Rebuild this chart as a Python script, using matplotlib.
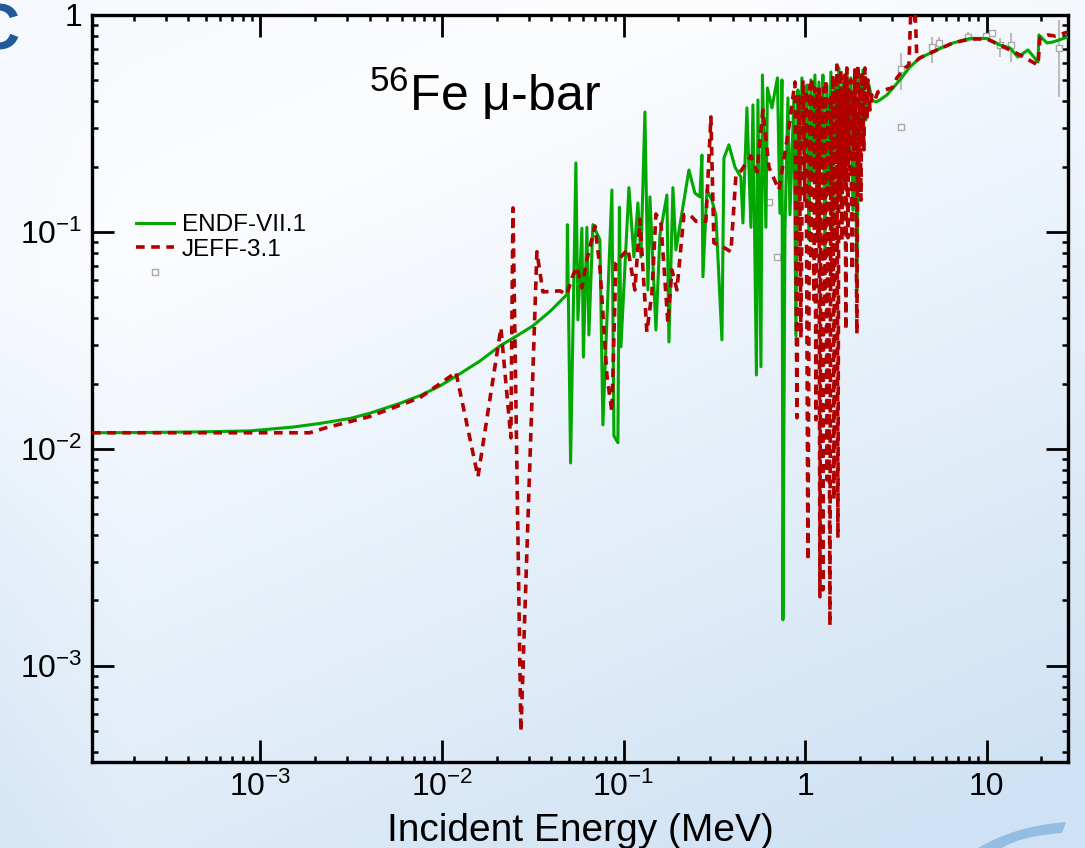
import numpy as np
import matplotlib
matplotlib.use("Agg")
import matplotlib.pyplot as plt
from matplotlib.lines import Line2D
from matplotlib.ticker import LogLocator, NullFormatter
from matplotlib.path import Path
from matplotlib.patches import PathPatch

plt.rcParams['font.family'] = ['Liberation Sans', 'DejaVu Sans']
plt.rcParams['mathtext.fontset'] = 'custom'
plt.rcParams['mathtext.rm'] = 'Liberation Sans'
plt.rcParams['mathtext.it'] = 'Liberation Sans:italic'
plt.rcParams['mathtext.bf'] = 'Liberation Sans:bold'
plt.rcParams['mathtext.default'] = 'regular'

# ---------------- data (E in MeV, mu-bar) ----------------
endf_E_low = [1.18e-4, 2.46e-4, 4.63e-4, 8.77e-4, 1.508e-3, 2.13e-3, 3.11e-3, 4.01e-3, 5.86e-3, 7.57e-3,
              9.75e-3, 1.256e-2, 1.618e-2, 2.084e-2, 2.588e-2, 3.168e-2, 3.936e-2, 4.877e-2]
endf_mu_low = [0.01186, 0.0119, 0.01197, 0.0121, 0.0126, 0.0131, 0.0138, 0.0146, 0.0162, 0.0176,
               0.0195, 0.0222, 0.0254, 0.0298, 0.0332, 0.0369, 0.0430, 0.0514]

endf_E_res = [0.04908, 0.05111, 0.05466, 0.05607, 0.05898, 0.06012, 0.06284, 0.06446, 0.06782, 0.0741,
              0.07698, 0.0863, 0.08853, 0.09313, 0.09493, 0.09676, 0.1071, 0.1141, 0.12, 0.1247,
              0.1312, 0.1363, 0.1398, 0.1509, 0.1587, 0.1734, 0.1779, 0.1871, 0.1944, 0.2292,
              0.2473, 0.2635, 0.2703, 0.2738, 0.2881, 0.3069, 0.3229, 0.3485, 0.3574, 0.3808,
              0.411, 0.4434, 0.4548, 0.4785, 0.5034, 0.5164, 0.5398, 0.5502, 0.5715, 0.5825,
              0.6088, 0.6205, 0.657, 0.7046, 0.7273, 0.746, 0.7555, 0.775, 0.8051, 0.8257, 0.8687]
endf_mu_res = [0.108, 0.00861, 0.208, 0.0393, 0.104, 0.0265, 0.105, 0.0335, 0.108, 0.092,
               0.0129, 0.156, 0.01148, 0.01067, 0.130, 0.0295, 0.160, 0.0767, 0.136, 0.0767,
               0.357, 0.054, 0.145, 0.0353, 0.0969, 0.148, 0.0311, 0.160, 0.0826, 0.193,
               0.151, 0.145, 0.226, 0.0621, 0.156, 0.140, 0.119, 0.0318, 0.219, 0.252,
               0.199, 0.179, 0.110, 0.373, 0.105, 0.385, 0.0219, 0.406, 0.0239, 0.529,
               0.105, 0.461, 0.373, 0.513, 0.122, 0.502, 0.00163, 0.102, 0.415, 0.120, 0.419]

endf_E_dense = [0.891, 0.914, 0.9374, 0.9614, 0.9987, 1.0244, 1.0507, 1.0777, 1.1053, 1.1337,
                1.1628, 1.1926, 1.2232, 1.2546, 1.2868, 1.3198, 1.3537, 1.3885, 1.4241, 1.4607,
                1.4982, 1.5366, 1.5761, 1.6165, 1.658, 1.7006, 1.7442, 1.789, 1.8349, 1.882,
                1.9311, 1.9815, 2.0324, 2.0845, 2.1652, 2.2491, 2.3362, 2.4578, 2.5862]
endf_mu_dense = [0.0332, 0.451, 0.140, 0.513, 0.239, 0.476, 0.092, 0.502, 0.174, 0.529,
                 0.114, 0.491, 0.215, 0.529, 0.0826, 0.476, 0.156, 0.546, 0.102, 0.502,
                 0.239, 0.570, 0.140, 0.476, 0.193, 0.558, 0.215, 0.513, 0.126, 0.558,
                 0.054, 0.529, 0.265, 0.558, 0.328, 0.476, 0.406, 0.397, 0.406]

endf_E_high = [2.8271, 3.3328, 3.7831, 4.2955, 5.331, 6.528, 8.1, 10.05, 11.86, 13.46,
               14.89, 16.91, 19.2, 19.44, 21.52, 23.22, 28.09]
endf_mu_high = [0.428, 0.502, 0.576, 0.634, 0.690, 0.743, 0.78, 0.78, 0.727, 0.705,
                0.640, 0.690, 0.607, 0.809, 0.743, 0.751, 0.792]

jeff_E_low = [1.18e-4, 1.87e-3, 2.29e-3, 4.01e-3, 7.55e-3, 0.01105, 0.01193, 0.01578, 0.02111, 0.02396,
              0.0246, 0.02721, 0.03333, 0.03596, 0.04463, 0.04877]
jeff_mu_low = [0.01186, 0.01186, 0.0125, 0.0141, 0.0172, 0.0215, 0.0226, 0.00743, 0.0361, 0.01124,
               0.129, 0.000497, 0.081, 0.0529, 0.0535, 0.0514]

jeff_E_res = [0.05196, 0.05536, 0.05898, 0.06284, 0.06956, 0.0741, 0.08099, 0.0863, 0.0908, 0.1057,
              0.1155, 0.1231, 0.1345, 0.1434, 0.1509, 0.1607, 0.1756, 0.1848, 0.1969, 0.2152,
              0.2321, 0.2505, 0.2844, 0.303, 0.3148, 0.3529, 0.3906, 0.4163, 0.4434, 0.5034,
              0.5433, 0.5861, 0.6324, 0.7181, 0.795, 0.8257, 0.8798]
jeff_mu_res = [0.0614, 0.069, 0.0552, 0.0743, 0.1065, 0.069, 0.0219, 0.0148, 0.072, 0.0835,
               0.054, 0.114, 0.0346, 0.0524, 0.121, 0.110, 0.0381, 0.0668, 0.054, 0.120,
               0.120, 0.112, 0.112, 0.339, 0.089, 0.0853, 0.081, 0.183, 0.191, 0.224,
               0.189, 0.365, 0.199, 0.156, 0.265, 0.328, 0.491]

jeff_E_dense = [0.9024, 0.9256, 0.9493, 0.9737, 0.9987, 1.0115, 1.0375, 1.0641, 1.0777, 1.0914,
                1.1194, 1.1337, 1.1481, 1.1628, 1.1776, 1.1926, 1.2078, 1.2232, 1.2388, 1.2546,
                1.2706, 1.2868, 1.3032, 1.3198, 1.3367, 1.3537, 1.371, 1.3885, 1.4062, 1.4241,
                1.4423, 1.4607, 1.4793, 1.4982, 1.5173, 1.5366, 1.5562, 1.5761, 1.5962, 1.6165,
                1.6371, 1.658, 1.6792, 1.7006, 1.7223, 1.7442, 1.7665, 1.789, 1.8118, 1.8349,
                1.8583, 1.882, 1.9311, 1.9557, 1.9815, 2.0068, 2.0324, 2.0583, 2.1111, 2.138,
                2.1929, 2.2208, 2.2778, 2.3362, 2.4269, 2.5211]
jeff_mu_dense = [0.0139, 0.428, 0.0325, 0.502, 0.140, 0.451, 0.00305, 0.476, 0.0743, 0.513,
                 0.0486, 0.461, 0.0136, 0.442, 0.092, 0.476, 0.00208, 0.428, 0.0286, 0.00224,
                 0.461, 0.0486, 0.502, 0.00719, 0.406, 0.102, 0.00153, 0.428, 0.0601, 0.529,
                 0.00582, 0.451, 0.0826, 0.588, 0.00389, 0.406, 0.140, 0.558, 0.091, 0.428,
                 0.174, 0.529, 0.0353, 0.570, 0.094, 0.451, 0.193, 0.502, 0.0668, 0.406,
                 0.239, 0.558, 0.0339, 0.588, 0.156, 0.476, 0.140, 0.546, 0.239, 0.570,
                 0.328, 0.502, 0.365, 0.428, 0.406, 0.442]

jeff_E_high = [2.7212, 3.0112, 3.2081, 3.5508, 3.7354, 3.9302, 4.1347, 4.2955, 5.331, 6.528,
               8.1, 10.05, 11.86, 13.46, 15.28, 19.2, 19.69, 21.79, 23.83, 28.09]
jeff_mu_high = [0.451, 0.461, 0.513, 0.570, 0.588, 2.0, 0.620, 0.634, 0.690, 0.743,
                0.775, 0.775, 0.727, 0.690, 0.654, 0.588, 0.783, 0.809, 0.80, 0.835]

exp_E = [0.635, 0.6973, 3.363, 3.363, 4.983, 5.468, 7.871, 9.886, 10.75, 11.86, 13.58, 25.05]
exp_mu = [0.137, 0.0769, 0.564, 0.305, 0.712, 0.743, 0.792, 0.80, 0.826, 0.727, 0.727, 0.705]
exp_err_lo = [0, 0, 0.113, 0, 0.111, 0.053, 0.041, 0, 0.034, 0.087, 0.12, 0.286]
exp_err_hi = [0, 0, 0.104, 0, 0.080, 0.049, 0.043, 0, 0.027, 0.056, 0.099, 0.243]

xtick_vals = [1e-3, 1e-2, 1e-1, 1, 10]
xtick_labels = ['$10^{-3}$', '$10^{-2}$', '$10^{-1}$', '1', '10']
ytick_vals = [1e-3, 1e-2, 1e-1, 1]
ytick_labels = ['$10^{-3}$', '$10^{-2}$', '$10^{-1}$', '1']

series_labels = ['ENDF-VII.1', 'JEFF-3.1']
title_text = r'$^{56}$Fe μ-bar'
xlabel_text = 'Incident Energy (MeV)'
panel_letter = 'C'

# ---------------- figure ----------------
W, H = 1085, 848
fig = plt.figure(figsize=(W / 100, H / 100), dpi=100)

# background gradient
bg = fig.add_axes([0, 0, 1, 1], zorder=-10)
yy, xx = np.mgrid[0:1:H * 1j, 0:1:W * 1j]
d = (xx * 0.35 + (yy - 0.35) * 0.65) / 0.738
t = np.where(d > 0, np.clip(d * 1.05, 0, 1), np.clip(-d * 0.5, 0, 1))
t = np.clip(t + 0.25 * np.clip(0.12 - xx, 0, 1) / 0.12 * np.clip(yy * 1.5, 0, 1), 0, 1)
white = np.array([252, 253, 255]) / 255.0
blue = np.array([207, 226, 244]) / 255.0
img = white[None, None, :] * (1 - t[..., None]) + blue[None, None, :] * t[..., None]
bg.imshow(img, aspect='auto', interpolation='bilinear')
bg.axis('off')

# logo swoosh bottom right
verts = [(978 / W, 0.0), (1015 / W, 22 / H), (1066 / W, 26 / H),
         (1062 / W, 15 / H), (1020 / W, 12 / H), (1002 / W, 0.0), (978 / W, 0.0)]
codes = [Path.MOVETO, Path.CURVE3, Path.CURVE3, Path.LINETO, Path.CURVE3, Path.CURVE3, Path.CLOSEPOLY]
fig.patches.append(PathPatch(Path(verts, codes), transform=fig.transFigure,
                             facecolor='#93bde3', edgecolor='none', zorder=-5))

ax = fig.add_axes([92 / W, 1 - 762 / H, 976 / W, 747 / H])
ax.set_facecolor('none')
ax.set_xscale('log')
ax.set_yscale('log')

green = '#00a800'
red = '#b00000'
dash = (0, (2.4, 1.8))

ax.errorbar(exp_E, exp_mu, yerr=[exp_err_lo, exp_err_hi], fmt='s', ms=4.5, mfc='white',
            mec='#a8a8a8', mew=1.0, ecolor='#bcbcbc', elinewidth=1.5, capsize=0, zorder=1.5)

endf_E = endf_E_low + endf_E_res + endf_E_dense + endf_E_high
endf_mu = endf_mu_low + endf_mu_res + endf_mu_dense + endf_mu_high
jeff_E = jeff_E_low + jeff_E_res + jeff_E_dense + jeff_E_high
jeff_mu = jeff_mu_low + jeff_mu_res + jeff_mu_dense + jeff_mu_high

ax.plot(endf_E, endf_mu, color=green, lw=2.2, zorder=3)
ax.plot(jeff_E, jeff_mu, color=red, lw=2.6, ls=dash, zorder=4)

ax.set_xlim(1.18e-4, 28.1)
ax.set_ylim(3.6e-4, 1.0)

ax.set_xticks(xtick_vals)
ax.set_xticklabels(xtick_labels)
ax.set_yticks(ytick_vals)
ax.set_yticklabels(ytick_labels)
for axis in (ax.xaxis, ax.yaxis):
    axis.set_minor_locator(LogLocator(base=10, subs=np.arange(2, 10), numticks=30))
    axis.set_minor_formatter(NullFormatter())

ax.tick_params(which='major', direction='in', length=16, width=2.0, top=True, right=True,
               labelsize=23, pad=7, colors='black')
ax.tick_params(which='minor', direction='in', length=4, width=1.8, top=True, right=True)
for s in ax.spines.values():
    s.set_linewidth(2.4)

ax.set_xlabel(xlabel_text, fontsize=28)
ax.xaxis.set_label_coords(0.5, -0.068)

ax.text(0.403, 0.872, title_text, transform=ax.transAxes, ha='center', va='baseline', fontsize=36)

handles = [Line2D([], [], color=green, lw=2.2),
           Line2D([], [], color=red, lw=2.6, ls=dash),
           Line2D([], [], ls='none', marker='s', ms=4.5, mfc='white', mec='#a8a8a8')]
ax.legend(handles, series_labels + [' '], loc='upper left', bbox_to_anchor=(0.045, 0.733),
          frameon=False, fontsize=17.5, handlelength=1.55, handletextpad=0.35, labelspacing=0.1,
          borderpad=0, borderaxespad=0)

fig.text(20 / W, 1 - 33 / H, panel_letter, ha='right', va='center', fontsize=46,
         fontweight='bold', color='#22599a')

fig.savefig('out.png', dpi=100)
